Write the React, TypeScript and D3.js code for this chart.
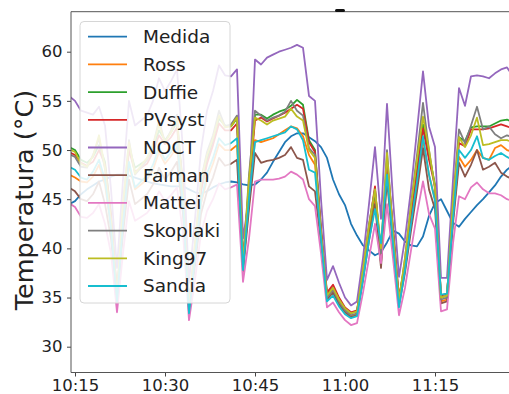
import React, { useRef, useEffect } from "react";
import * as d3 from "d3";

// minute timestamps (10:14 .. 11:28)
const times = [
  "10:14", "10:15", "10:16", "10:17", "10:18", "10:19", "10:20", "10:21", "10:22", "10:23",
  "10:24", "10:25", "10:26", "10:27", "10:28", "10:29", "10:30", "10:31", "10:32", "10:33",
  "10:34", "10:35", "10:36", "10:37", "10:38", "10:39", "10:40", "10:41", "10:42", "10:43",
  "10:44", "10:45", "10:46", "10:47", "10:48", "10:49", "10:50", "10:51", "10:52", "10:53",
  "10:54", "10:55", "10:56", "10:57", "10:58", "10:59", "11:00", "11:01", "11:02", "11:03",
  "11:04", "11:05", "11:06", "11:07", "11:08", "11:09", "11:10", "11:11", "11:12", "11:13",
  "11:14", "11:15", "11:16", "11:17", "11:18", "11:19", "11:20", "11:21", "11:22", "11:23",
  "11:24", "11:25", "11:26", "11:27", "11:28",
];

const medida = [44.5, 44.8, 45.5, 46.0, 46.4, 46.8, 47.0, 47.3, 47.5, 47.5, 47.4, 47.2, 47.0, 46.8, 46.6, 46.5, 46.4, 46.3, 46.3, 46.3, 46.0, 45.7, 45.6, 45.8, 46.2, 46.5, 46.7, 46.8, 46.7, 46.5, 46.4, 46.5, 47.0, 47.7, 48.8, 49.8, 50.8, 51.4, 51.7, 51.7, 51.3, 50.9, 50.3, 49.2, 47.0, 45.5, 44.4, 42.5, 41.3, 40.3, 39.8, 39.3, 39.6, 40.6, 41.8, 41.5, 40.7, 40.3, 40.2, 41.2, 43.3, 44.6, 45.0, 43.8, 42.6, 42.2, 43.0, 43.7, 44.4, 45.0, 45.7, 46.4, 47.3, 48.0, 48.5];
const ross = [47.5, 47.2, 46.8, 46.7, 47.3, 48.5, 46.5, 42.0, 35.0, 42.5, 48.5, 46.0, 46.5, 47.0, 48.0, 49.8, 48.6, 49.4, 50.3, 44.5, 33.8, 39.0, 44.5, 47.0, 48.6, 50.6, 50.0, 50.0, 50.5, 38.2, 44.5, 51.0, 50.8, 51.0, 51.2, 51.6, 52.0, 52.4, 52.2, 51.4, 49.5, 48.5, 41.5, 35.0, 35.8, 34.5, 33.6, 33.1, 33.3, 37.0, 41.3, 45.0, 39.5, 47.8, 41.0, 34.5, 38.0, 42.5, 46.5, 51.0, 47.5, 45.0, 34.6, 34.8, 43.0, 49.3, 48.3, 49.0, 50.0, 49.2, 49.0, 50.2, 50.5, 50.0, 49.8];
const duffie = [50.3, 50.0, 49.0, 48.7, 49.3, 50.5, 48.8, 43.5, 35.3, 43.5, 50.3, 48.2, 48.6, 49.0, 50.2, 52.0, 51.0, 51.8, 52.8, 46.5, 34.0, 40.0, 46.0, 49.0, 51.0, 53.2, 52.5, 52.4, 53.2, 38.5, 46.5, 53.6, 53.6, 53.2, 53.6, 53.9, 54.1, 54.5, 55.1, 54.6, 51.0, 50.0, 42.0, 35.3, 36.0, 34.8, 33.9, 33.4, 33.6, 37.5, 42.0, 45.8, 39.5, 48.5, 42.0, 34.8, 38.5, 43.5, 48.0, 52.6, 49.5, 46.5, 35.0, 35.2, 44.0, 51.3, 50.9, 52.3, 52.4, 52.4, 52.4, 52.7, 53.0, 53.1, 52.8];
const pvsyst = [49.8, 49.5, 48.7, 48.4, 48.8, 50.0, 48.5, 43.4, 35.6, 43.3, 50.0, 47.8, 48.2, 48.6, 49.8, 51.5, 50.6, 51.3, 52.3, 46.4, 34.3, 40.0, 45.8, 48.6, 50.5, 52.7, 52.0, 52.0, 52.7, 38.8, 46.0, 53.0, 53.3, 52.9, 53.2, 53.5, 53.8, 54.2, 54.6, 54.2, 50.8, 49.8, 42.0, 35.5, 36.3, 35.0, 34.0, 33.5, 33.7, 37.6, 42.2, 46.3, 38.5, 49.0, 42.0, 35.0, 38.5, 43.3, 47.6, 52.2, 49.0, 46.3, 35.2, 35.4, 43.8, 50.7, 50.4, 52.1, 52.1, 52.1, 52.2, 52.4, 52.6, 52.4, 52.2];
const noct = [55.5, 55.0, 54.0, 53.8, 53.6, 54.4, 52.5, 46.0, 38.0, 47.0, 55.0, 52.5, 53.0, 53.5, 55.0, 57.3, 56.0, 57.0, 58.2, 50.0, 36.5, 43.0, 50.0, 54.0, 56.0, 58.6, 57.6, 57.5, 58.2, 41.0, 45.0, 59.2, 58.7, 59.4, 59.7, 60.0, 60.2, 60.4, 60.7, 60.4, 55.5, 55.0, 45.0, 36.8, 38.2, 36.5, 35.0, 34.2, 34.6, 39.0, 44.5, 50.3, 43.0, 54.7, 45.0, 37.1, 41.0, 46.0, 52.0, 58.0, 52.4, 50.3, 37.0, 37.0, 47.0, 56.3, 54.5, 57.5, 57.6, 57.5, 57.3, 57.8, 58.2, 58.4, 57.5];
const faiman = [46.2, 45.8, 45.0, 44.8, 45.5, 46.8, 44.5, 41.0, 34.6, 41.5, 47.0, 44.5, 45.0, 45.5, 46.5, 48.2, 47.0, 47.8, 48.8, 43.5, 33.4, 38.3, 43.5, 45.8, 47.2, 49.2, 48.4, 48.6, 49.0, 37.6, 44.0, 49.7, 48.7, 48.9, 49.0, 49.2, 49.5, 50.3, 49.2, 49.0, 46.3, 45.8, 40.5, 34.8, 35.5, 34.3, 33.5, 33.0, 33.2, 36.8, 40.8, 44.5, 38.0, 47.0, 40.0, 34.2, 37.5, 41.8, 45.8, 50.2, 46.0, 44.0, 34.4, 34.6, 42.5, 48.7, 47.3, 48.5, 50.0, 48.0, 48.3, 48.7, 47.7, 47.3, 47.0];
const mattei = [44.6, 44.2, 43.2, 43.1, 43.6, 44.5, 42.5, 39.5, 33.5, 39.5, 44.8, 42.8, 43.2, 43.6, 44.4, 45.8, 44.8, 45.4, 46.2, 41.5, 32.7, 36.8, 41.5, 43.8, 45.0, 46.6, 46.0, 46.2, 46.5, 36.6, 41.0, 46.8, 47.0, 47.0, 47.0, 47.1, 47.3, 47.8, 47.5, 47.0, 45.0, 44.3, 39.5, 34.0, 34.5, 33.5, 32.7, 32.2, 32.4, 35.5, 39.0, 42.5, 38.5, 44.5, 39.0, 33.2, 36.0, 39.8, 43.5, 46.8, 43.5, 42.0, 33.6, 33.8, 40.5, 45.3, 45.0, 46.2, 46.7, 46.0, 45.6, 45.6, 45.4, 45.0, 44.8];
const skoplaki = [49.6, 49.3, 48.3, 48.2, 49.5, 51.2, 48.0, 42.5, 35.0, 44.5, 51.0, 47.5, 48.2, 49.0, 50.5, 53.0, 50.8, 52.0, 53.6, 45.0, 33.8, 40.5, 47.0, 49.8, 51.5, 54.0, 52.4, 52.6, 53.5, 38.0, 47.5, 54.0, 53.5, 53.0, 53.3, 53.5, 53.9, 55.0, 54.0, 53.5, 50.2, 49.5, 41.5, 35.0, 35.8, 34.6, 33.7, 33.2, 33.4, 37.8, 42.5, 46.0, 39.5, 50.0, 41.5, 34.5, 39.0, 44.5, 49.5, 54.8, 50.0, 46.0, 34.8, 35.0, 45.0, 52.1, 50.7, 52.5, 54.4, 52.1, 52.4, 51.6, 51.2, 51.5, 51.3];
const king97 = [50.1, 49.8, 48.6, 48.3, 49.4, 51.5, 48.2, 42.8, 35.2, 44.5, 50.8, 47.6, 48.4, 49.2, 50.5, 52.6, 50.8, 51.8, 53.2, 45.5, 34.0, 40.5, 46.8, 49.5, 51.2, 53.5, 52.3, 52.4, 53.3, 38.3, 47.0, 53.3, 53.0, 52.6, 53.0, 53.2, 53.4, 54.2, 53.4, 53.0, 50.0, 49.2, 41.5, 35.2, 36.0, 34.8, 33.9, 33.4, 33.6, 37.8, 42.3, 46.0, 40.0, 49.7, 41.5, 34.7, 39.0, 44.3, 49.0, 53.4, 50.0, 46.2, 35.0, 35.2, 44.8, 51.3, 50.3, 51.5, 53.3, 50.5, 50.6, 50.8, 51.0, 51.0, 50.8];
const sandia = [48.3, 48.0, 47.2, 47.0, 47.8, 49.0, 47.0, 42.0, 34.6, 42.5, 48.8, 46.2, 46.8, 47.4, 48.5, 50.3, 49.0, 49.8, 50.8, 44.5, 33.4, 39.0, 44.8, 47.6, 49.2, 51.2, 50.5, 50.7, 51.2, 37.8, 45.0, 50.8, 51.0, 51.2, 51.4, 51.6, 51.8, 52.4, 52.1, 51.0, 48.0, 47.7, 41.0, 34.6, 35.2, 34.1, 33.3, 32.9, 33.1, 36.8, 40.8, 44.0, 40.5, 47.5, 40.5, 34.0, 37.8, 42.5, 46.8, 51.4, 47.5, 44.8, 35.3, 35.4, 43.0, 50.0, 49.2, 50.0, 51.4, 49.2, 49.0, 49.4, 49.7, 49.3, 49.0];

const seriesNames = ["Medida", "Ross", "Duffie", "PVsyst", "NOCT", "Faiman", "Mattei", "Skoplaki", "King97", "Sandia"];
const seriesValues = [medida, ross, duffie, pvsyst, noct, faiman, mattei, skoplaki, king97, sandia];
const seriesColors = ["#1f77b4", "#ff7f0e", "#2ca02c", "#d62728", "#9467bd", "#8c564b", "#e377c2", "#7f7f7f", "#bcbd22", "#17becf"];

const yTicks = [30, 35, 40, 45, 50, 55, 60];
const xTickLabels = ["10:15", "10:30", "10:45", "11:00", "11:15"];
const yLabel = "Temperatura (°C)";

const FONT = "DejaVu Sans, sans-serif";

const Chart: React.FC = () => {
  const ref = useRef<SVGSVGElement | null>(null);

  useEffect(() => {
    if (!ref.current) return;
    const svg = d3.select(ref.current);
    svg.selectAll("*").remove();

    const left = 71, top = 11.7, bottom = 372.5, right = 515;
    const parse = d3.timeParse("%H:%M");
    const dates = times.map(t => parse(t) as Date);

    const x = d3.scaleTime()
      .domain([d3.timeSecond.offset(parse("10:15") as Date, -40), d3.timeSecond.offset(parse("11:28") as Date, 20)])
      .range([left, right]);
    const y = d3.scaleLinear().domain([27.376, 64.068]).range([bottom, top]);

    svg.append("rect").attr("width", 509).attr("height", 394).attr("fill", "white");

    svg.append("defs").append("clipPath").attr("id", "plot-clip")
      .append("rect").attr("x", left).attr("y", top).attr("width", right - left).attr("height", bottom - top);

    const line = d3.line<number>()
      .x((_, i) => x(dates[i]))
      .y(d => y(d));

    const g = svg.append("g").attr("clip-path", "url(#plot-clip)");
    seriesValues.forEach((vals, i) => {
      g.append("path")
        .datum(vals)
        .attr("fill", "none")
        .attr("stroke", seriesColors[i])
        .attr("stroke-width", 1.8)
        .attr("stroke-linejoin", "round")
        .attr("d", line);
    });

    // axes
    const yAxis = svg.append("g").attr("transform", `translate(${left},0)`)
      .call(d3.axisLeft(y).tickValues(yTicks).tickSize(4).tickPadding(4.5).tickFormat(d3.format("d")));
    const xAxis = svg.append("g").attr("transform", `translate(0,${bottom})`)
      .call(d3.axisBottom(x)
        .tickValues(xTickLabels.map(t => parse(t) as Date))
        .tickSize(4).tickPadding(3)
        .tickFormat(d3.timeFormat("%H:%M") as any));
    [yAxis, xAxis].forEach(ax => {
      ax.select(".domain").remove();
      ax.selectAll("line").attr("stroke", "#444").attr("stroke-width", 1);
      ax.selectAll("text").attr("font-family", FONT).attr("font-size", 16.5).attr("fill", "#222");
    });

    // spines
    const sp = svg.append("g").attr("stroke", "#555").attr("stroke-width", 1).attr("fill", "none");
    sp.append("line").attr("x1", left).attr("x2", left).attr("y1", top).attr("y2", bottom);
    sp.append("line").attr("x1", left).attr("x2", right).attr("y1", bottom).attr("y2", bottom);
    sp.append("line").attr("x1", left).attr("x2", right).attr("y1", top).attr("y2", top);

    // remnant of a cropped title
    svg.append("rect").attr("x", 335).attr("y", 9).attr("width", 10).attr("height", 3)
      .attr("rx", 1.5).attr("fill", "#111");

    // y label
    svg.append("text")
      .attr("transform", "translate(33,200) rotate(-90)")
      .attr("text-anchor", "middle")
      .attr("font-family", FONT)
      .attr("font-size", 25.5)
      .attr("fill", "#222")
      .text(yLabel);

    // legend
    const lg = svg.append("g");
    lg.append("rect")
      .attr("x", 80).attr("y", 21.5).attr("width", 150).attr("height", 281.5).attr("rx", 4)
      .attr("fill", "white").attr("fill-opacity", 0.86)
      .attr("stroke", "#d6d6d6").attr("stroke-width", 1);
    seriesNames.forEach((name, i) => {
      const yy = 36.7 + i * 27.7;
      lg.append("line").attr("x1", 88).attr("x2", 127).attr("y1", yy).attr("y2", yy)
        .attr("stroke", seriesColors[i]).attr("stroke-width", 1.8);
      lg.append("text").attr("x", 143).attr("y", yy).attr("dy", "0.35em")
        .attr("font-family", FONT).attr("font-size", 18.5).attr("fill", "#222")
        .text(name);
    });
  }, []);

  return <svg ref={ref} width={509} height={394} style={{ position: "absolute", left: 0, top: 0 }} />;
};

export default function App() {
  return <Chart />;
}
